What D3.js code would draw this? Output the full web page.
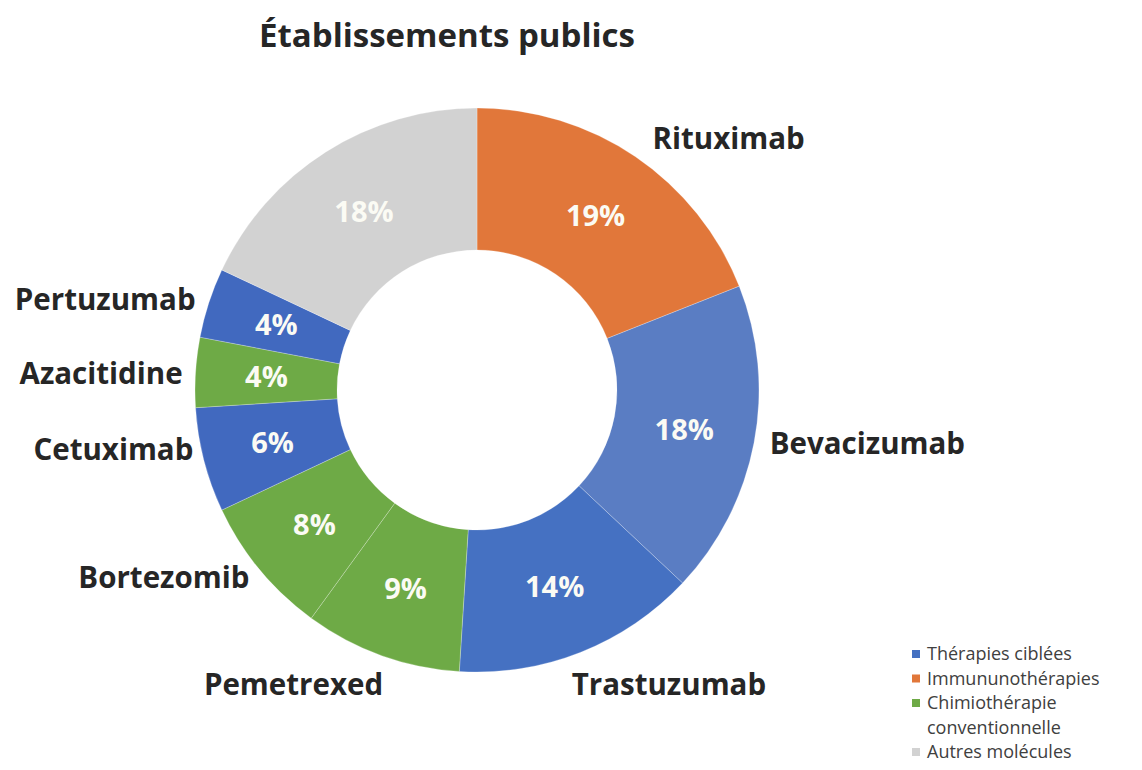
<!DOCTYPE html>
<html>
<head>
<meta charset="utf-8">
<script src="https://cdn.jsdelivr.net/npm/d3@7"></script>
<style>
  body { margin: 0; background: #fff; }
  text { font-family: "Open Sans", "Noto Sans", sans-serif; }
</style>
</head>
<body>
<div id="chart"></div>
<script>
// data
var drugs = ["Rituximab", "Bevacizumab", "Trastuzumab", "Pemetrexed", "Bortezomib",
             "Cetuximab", "Azacitidine", "Pertuzumab", "Autres molécules"];
var shares = [19, 18, 14, 9, 8, 6, 4, 4, 18];
var drugClass = ["immuno", "ciblee", "ciblee", "chimio", "chimio", "ciblee", "chimio", "ciblee", "autres"];
var showName = [true, true, true, true, true, true, true, true, false];

var legendKeys = ["ciblee", "immuno", "chimio", "autres"];
var legendLines = [["Thérapies ciblées"], ["Immununothérapies"], ["Chimiothérapie", "conventionnelle"], ["Autres molécules"]];

var title = "Établissements publics";

// styles
var classColor = {ciblee: "#4470c1", immuno: "#e1773a", chimio: "#6eaa46", autres: "#d2d2d2"};
var sliceFill = ["#e1773a", "#5a7dc3", "#4571c2", "#6eaa46", "#6eaa46", "#4169bf", "#6eaa46", "#4169bf", "#d2d2d2"];
// small nudges for the outside names (Excel best-fit placement)
var nameNudge = [[8, -5], [0, -2], [-15, 17], [7, 14], [2, -3], [5, -15], [3, 2], [2, 1], [0, 0]];

var W = 1142, H = 770;
var cx = 477, cy = 390, rOuter = 282, rInner = 140;

var svg = d3.select("#chart").append("svg")
    .attr("width", W)
    .attr("height", H);

svg.append("text")
    .attr("x", 447)
    .attr("y", 47)
    .attr("text-anchor", "middle")
    .style("font-size", "33px")
    .style("font-weight", "700")
    .style("fill", "#262626")
    .text(title);

var g = svg.append("g")
    .attr("transform", "translate(" + cx + "," + cy + ")");

var pie = d3.pie().sort(null).value(function (d) { return d; });
var arcs = pie(shares);

var arc = d3.arc().innerRadius(rInner).outerRadius(rOuter);
var midArc = d3.arc().innerRadius((rInner + rOuter) / 2).outerRadius((rInner + rOuter) / 2);
var nameArc = d3.arc().innerRadius(298).outerRadius(298);

g.selectAll("path.slice")
    .data(arcs)
    .enter().append("path")
    .attr("class", "slice")
    .attr("d", arc)
    .style("fill", function (d, i) { return sliceFill[i]; })
    .style("stroke", "#fff")
    .style("stroke-opacity", 0.25)
    .style("stroke-width", 1);

// percentages inside
g.selectAll("text.pct")
    .data(arcs)
    .enter().append("text")
    .attr("class", "pct")
    .attr("transform", function (d) { return "translate(" + midArc.centroid(d) + ")"; })
    .attr("text-anchor", "middle")
    .attr("dy", "0.36em")
    .style("font-size", "29px")
    .style("font-weight", "700")
    .style("fill", "#fbfbf4")
    .text(function (d) { return d.data + "%"; });

// drug names outside
g.selectAll("text.name")
    .data(arcs.filter(function (d, i) { return showName[i]; }))
    .enter().append("text")
    .attr("class", "name")
    .attr("transform", function (d) {
        var p = nameArc.centroid(d);
        var n = nameNudge[d.index];
        return "translate(" + (p[0] + n[0]) + "," + (p[1] + n[1]) + ")";
    })
    .attr("text-anchor", function (d) {
        var a = (d.startAngle + d.endAngle) / 2;
        return a < Math.PI + 0.15 ? "start" : "end";
    })
    .attr("dy", "0.36em")
    .style("font-size", "29.5px")
    .style("font-weight", "700")
    .style("fill", "#262626")
    .text(function (d) { return drugs[d.index]; });

// legend
var legend = svg.append("g")
    .attr("transform", "translate(912,654)");

var lineH = 24.5;
var row = 0;
legendKeys.forEach(function (k, i) {
    var item = legend.append("g")
        .attr("transform", "translate(0," + (row * lineH) + ")");
    item.append("rect")
        .attr("x", 0)
        .attr("y", -4)
        .attr("width", 8)
        .attr("height", 8)
        .style("fill", classColor[k]);
    legendLines[i].forEach(function (t, j) {
        item.append("text")
            .attr("x", 15)
            .attr("y", j * lineH)
            .attr("dy", "0.35em")
            .style("font-size", "18px")
            .style("fill", "#404040")
            .text(t);
    });
    row += legendLines[i].length;
});
</script>
</body>
</html>
